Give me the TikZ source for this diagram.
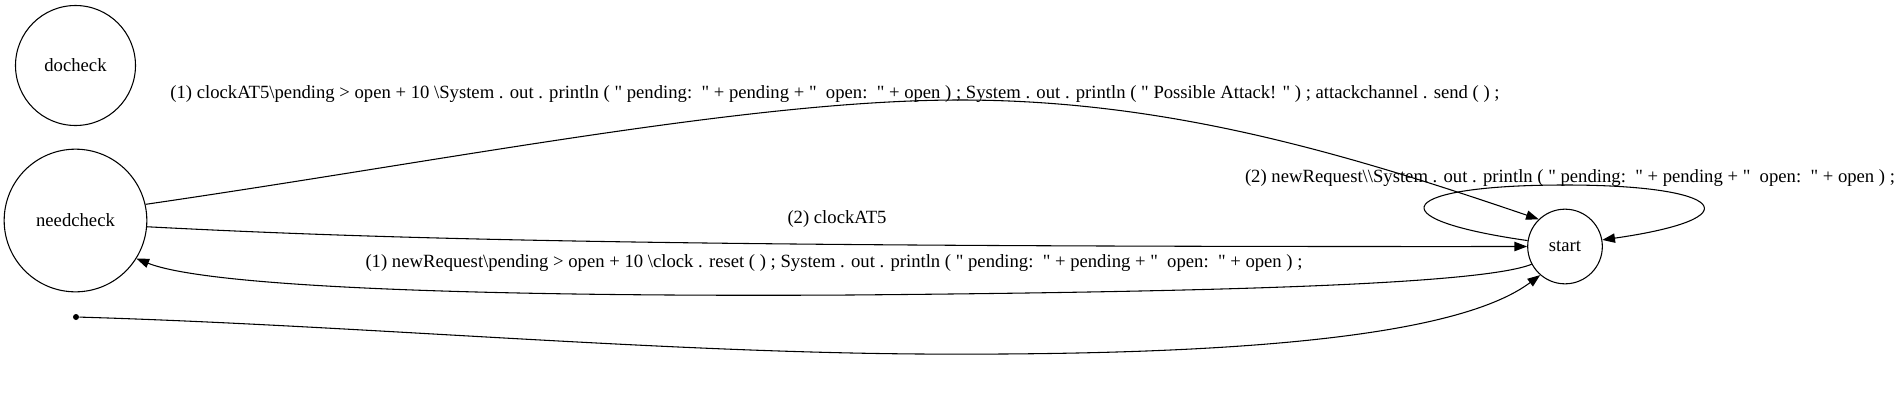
\documentclass[tikz,border=0pt]{standalone}
\usepackage{fontspec}
\newfontfamily\gvfont{Liberation Serif}
\usetikzlibrary{arrows.meta}
\begin{document}
\begin{tikzpicture}[x=0.75pt,y=-0.75pt,
  state/.style={circle, draw, line width=0.8pt, inner sep=0pt, font=\gvfont\fontsize{14}{17}\selectfont},
  lbl/.style={inner sep=0pt, font=\gvfont\fontsize{14}{17}\selectfont},
  conn/.style={draw, line width=0.8pt, -{Triangle[length=9.5pt,width=7pt]}},
  initdot/.style={circle, fill, inner sep=0pt, minimum size=4.5pt}]
\useasboundingbox (0,0) rectangle (1897,411);
\node[state, minimum size=90pt] (docheck) at (75.5,65.5) {docheck};
\node[state, minimum size=107pt] (needcheck) at (75.5,220.5) {needcheck};
\node[state, minimum size=56pt] (start) at (1565,246.5) {start};
\node[initdot] (init) at (76,317) {};
% labels
\node[lbl] (l1) at (835,94) {(1) clockAT5\textbackslash pending > open + 10 \textbackslash System . out . println ( " pending:~~" + pending + "~~open:~~" + open ) ; System . out . println ( " Possible Attack! " ) ; attackchannel . send ( ) ;};
\node[lbl] (l2) at (837,219) {(2) clockAT5};
\node[lbl] (l3) at (834,263) {(1) newRequest\textbackslash pending > open + 10 \textbackslash clock . reset ( ) ; System . out . println ( " pending:~~" + pending + "~~open:~~" + open ) ;};
\node[lbl] (l4) at (1570,178) {(2) newRequest\textbackslash\textbackslash System . out . println ( " pending:~~" + pending + "~~open:~~" + open ) ;};
% edges
\draw[conn] (needcheck.13) .. controls (450,160) and (750,100) .. (960,100) .. controls (1170,100) and (1350,155) .. (start.134);
\draw[conn] (needcheck.-5) .. controls (400,240) and (700,247) .. (start.180);
\draw[conn] (start.208) .. controls (1480,285) and (1200,292) .. (850,295) .. controls (500,297) and (210,288) .. (needcheck.328);
\draw[conn] (init) .. controls (350,325) and (650,352) .. (920,354) .. controls (1250,356) and (1460,335) .. (start.229);
\draw[conn] (start.171) .. controls (1370,218) and (1400,185) .. (1565,185) .. controls (1725,185) and (1755,218) .. (start.10);
\end{tikzpicture}
\end{document}
